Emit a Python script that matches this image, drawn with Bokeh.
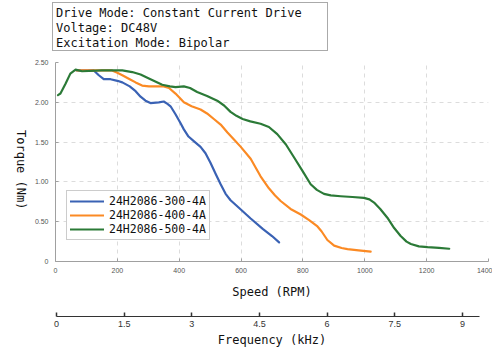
import math
from bokeh.plotting import figure
from bokeh.models import Range1d, LinearAxis, FixedTicker, Legend, LegendItem, Div
from bokeh.layouts import column, row
from bokeh.embed import file_html
from bokeh.resources import INLINE

# ---- data ----
x_300 = [68, 124, 140, 156, 178, 200, 216, 240, 259, 275, 291, 307, 334, 350, 362, 372, 388, 404,
         415, 430, 448, 469, 485, 501, 518, 534, 550, 566, 600, 631, 670, 700, 723]
y_300 = [2.40, 2.40, 2.34, 2.29, 2.29, 2.27, 2.25, 2.20, 2.14, 2.07, 2.02, 1.99, 2.00, 2.01, 1.98,
         1.95, 1.85, 1.74, 1.66, 1.57, 1.51, 1.44, 1.36, 1.24, 1.10, 0.97, 0.85, 0.77, 0.65, 0.54,
         0.41, 0.32, 0.24]

x_400 = [68, 120, 183, 200, 216, 240, 259, 280, 302, 334, 350, 367, 388, 415, 440, 469, 490, 512,
         534, 556, 580, 599, 631, 663, 690, 710, 728, 760, 793, 820, 847, 860, 879, 901, 925, 944,
         980, 1019]
y_400 = [2.40, 2.40, 2.40, 2.37, 2.34, 2.29, 2.25, 2.21, 2.20, 2.20, 2.20, 2.18, 2.11, 2.00, 1.95,
         1.91, 1.86, 1.79, 1.72, 1.62, 1.52, 1.44, 1.29, 1.07, 0.92, 0.83, 0.76, 0.66, 0.59, 0.52,
         0.44, 0.38, 0.27, 0.20, 0.17, 0.155, 0.14, 0.125]

x_500 = [8, 16, 24, 32, 48, 65, 86, 150, 216, 248, 275, 302, 345, 370, 388, 415, 435, 458, 490,
         523, 545, 566, 585, 605, 630, 663, 690, 717, 745, 771, 800, 825, 845, 868, 890, 922, 960,
         997, 1015, 1030, 1050, 1073, 1095, 1116, 1135, 1149, 1175, 1203, 1240, 1273]
y_500 = [2.09, 2.11, 2.17, 2.23, 2.36, 2.41, 2.39, 2.40, 2.40, 2.38, 2.35, 2.30, 2.22, 2.20, 2.19,
         2.20, 2.18, 2.13, 2.08, 2.02, 1.96, 1.88, 1.83, 1.79, 1.76, 1.73, 1.69, 1.60, 1.47, 1.31,
         1.13, 0.97, 0.90, 0.85, 0.83, 0.82, 0.81, 0.80, 0.78, 0.74, 0.66, 0.55, 0.42, 0.32, 0.25,
         0.22, 0.19, 0.18, 0.17, 0.16]

series_names = ["24H2086-300-4A", "24H2086-400-4A", "24H2086-500-4A"]
series_colors = ["#3a62b4", "#fb8a24", "#2b7a37"]

x_ticks = [0, 200, 400, 600, 800, 1000, 1200, 1400]
y_ticks = [0, 0.5, 1.0, 1.5, 2.0, 2.5]
y_tick_labels = ["0", "0.50", "1.00", "1.50", "2.00", "2.50"]
f_ticks = [0, 1.5, 3, 4.5, 6, 7.5, 9]
f_tick_labels = ["0", "1.5", "3", "4.5", "6", "7.5", "9"]

info_lines = ["Drive Mode: Constant Current Drive", "Voltage: DC48V", "Excitation Mode: Bipolar"]
y_title = "Torque (Nm)"

MONO = "DejaVu Sans Mono"

info = Div(text="<br>".join(info_lines), width=276, height=49, margin=(2, 0, 0, 52),
           styles={"font-family": MONO, "font-size": "12px", "line-height": "15px",
                   "border": "1px solid #aaaaaa", "padding": "3px 4px 0px 3px",
                   "color": "#111111", "box-sizing": "border-box", "white-space": "nowrap",
                   "background-color": "white"})

# y-axis title, reading top to bottom
ytitle = Div(text=y_title, width=28, height=90, margin=(79, 0, 0, 0),
             styles={"font-family": MONO, "font-size": "12px", "line-height": "14px",
                     "writing-mode": "vertical-rl", "white-space": "nowrap",
                     "color": "#111111", "text-align": "start"})

p = figure(frame_width=433, frame_height=199,
           x_range=Range1d(0, 1400), y_range=Range1d(0, 2.5),
           output_backend="svg", toolbar_location=None,
           min_border_left=27, min_border_right=4, min_border_top=11, min_border_bottom=94)
p.outline_line_color = None
p.background_fill_color = "white"

# grids
for g in (p.xgrid[0], p.ygrid[0]):
    g.grid_line_color = "#dcdcdc"
    g.grid_line_dash = "4 4"
    g.grid_line_width = 1
p.xgrid[0].ticker = FixedTicker(ticks=x_ticks)
p.ygrid[0].ticker = FixedTicker(ticks=y_ticks)

# main x axis
xa = p.xaxis[0]
xa.ticker = FixedTicker(ticks=x_ticks)
xa.axis_line_color = "#a0a0a0"
xa.major_tick_line_color = "#a0a0a0"
xa.major_tick_in = 3
xa.major_tick_out = 0
xa.minor_tick_line_color = None
xa.major_label_text_font_size = "7px"
xa.major_label_text_color = "#555555"
xa.major_label_standoff = 6
xa.axis_label = "Speed (RPM)"
xa.axis_label_text_font = MONO
xa.axis_label_text_font_size = "12px"
xa.axis_label_text_font_style = "normal"
xa.axis_label_text_color = "#111111"
xa.axis_label_standoff = 9

# y axis (ticks only)
ya = p.yaxis[0]
ya.ticker = FixedTicker(ticks=y_ticks)
ya.major_label_overrides = {t: l for t, l in zip(y_ticks, y_tick_labels)}
ya.axis_line_color = "#a0a0a0"
ya.major_tick_line_color = "#a0a0a0"
ya.major_tick_in = 3
ya.major_tick_out = 0
ya.minor_tick_line_color = None
ya.major_label_text_font_size = "7px"
ya.major_label_text_color = "#555555"
ya.major_label_standoff = 7

# spacer axis and frequency axis
p.extra_x_ranges = {"freq": Range1d(-1.0 / 45.1, 432.0 / 45.1)}
spacer = LinearAxis(x_range_name="freq", ticker=FixedTicker(ticks=[]), axis_line_color=None,
                    major_tick_line_color=None, minor_tick_line_color=None,
                    major_tick_in=0, major_tick_out=0, major_label_standoff=0,
                    axis_label=" ", axis_label_standoff=0, axis_label_text_font_size="11.5px")
p.add_layout(spacer, "below")

fa = LinearAxis(x_range_name="freq", ticker=FixedTicker(ticks=f_ticks), bounds=(0, 9.38))
fa.major_label_overrides = {t: l for t, l in zip(f_ticks, f_tick_labels)}
fa.axis_line_color = "#333333"
fa.axis_line_width = 1.2
fa.major_tick_line_color = "#333333"
fa.major_tick_line_width = 1.5
fa.major_tick_in = 4
fa.major_tick_out = 0
fa.minor_tick_line_color = None
fa.major_label_text_font_size = "9px"
fa.major_label_text_color = "#333333"
fa.major_label_standoff = 4
fa.axis_label = "Frequency (kHz)"
fa.axis_label_text_font = MONO
fa.axis_label_text_font_size = "12px"
fa.axis_label_text_font_style = "normal"
fa.axis_label_text_color = "#111111"
fa.axis_label_standoff = 3
p.add_layout(fa, "below")

# curves
renderers = []
for xs, ys, c in zip([x_300, x_400, x_500], [y_300, y_400, y_500], series_colors):
    r = p.line(xs, ys, line_color=c, line_width=2.2, line_join="round", line_cap="round")
    renderers.append(r)

legend = Legend(items=[LegendItem(label=n, renderers=[r]) for n, r in zip(series_names, renderers)],
                location=(11, 21))
legend.label_text_font = MONO
legend.label_text_font_size = "11.5px"
legend.label_text_color = "#111111"
legend.glyph_width = 34
legend.glyph_height = 14
legend.label_height = 14
legend.label_standoff = 5
legend.spacing = 0
legend.padding = 3
legend.margin = 0
legend.border_line_color = "#999999"
legend.border_line_width = 1
legend.background_fill_color = "white"
legend.background_fill_alpha = 1
p.add_layout(legend)

layout = column(info, row(ytitle, p, spacing=0), spacing=0)
open("out.html", "w").write(file_html(layout, INLINE))
